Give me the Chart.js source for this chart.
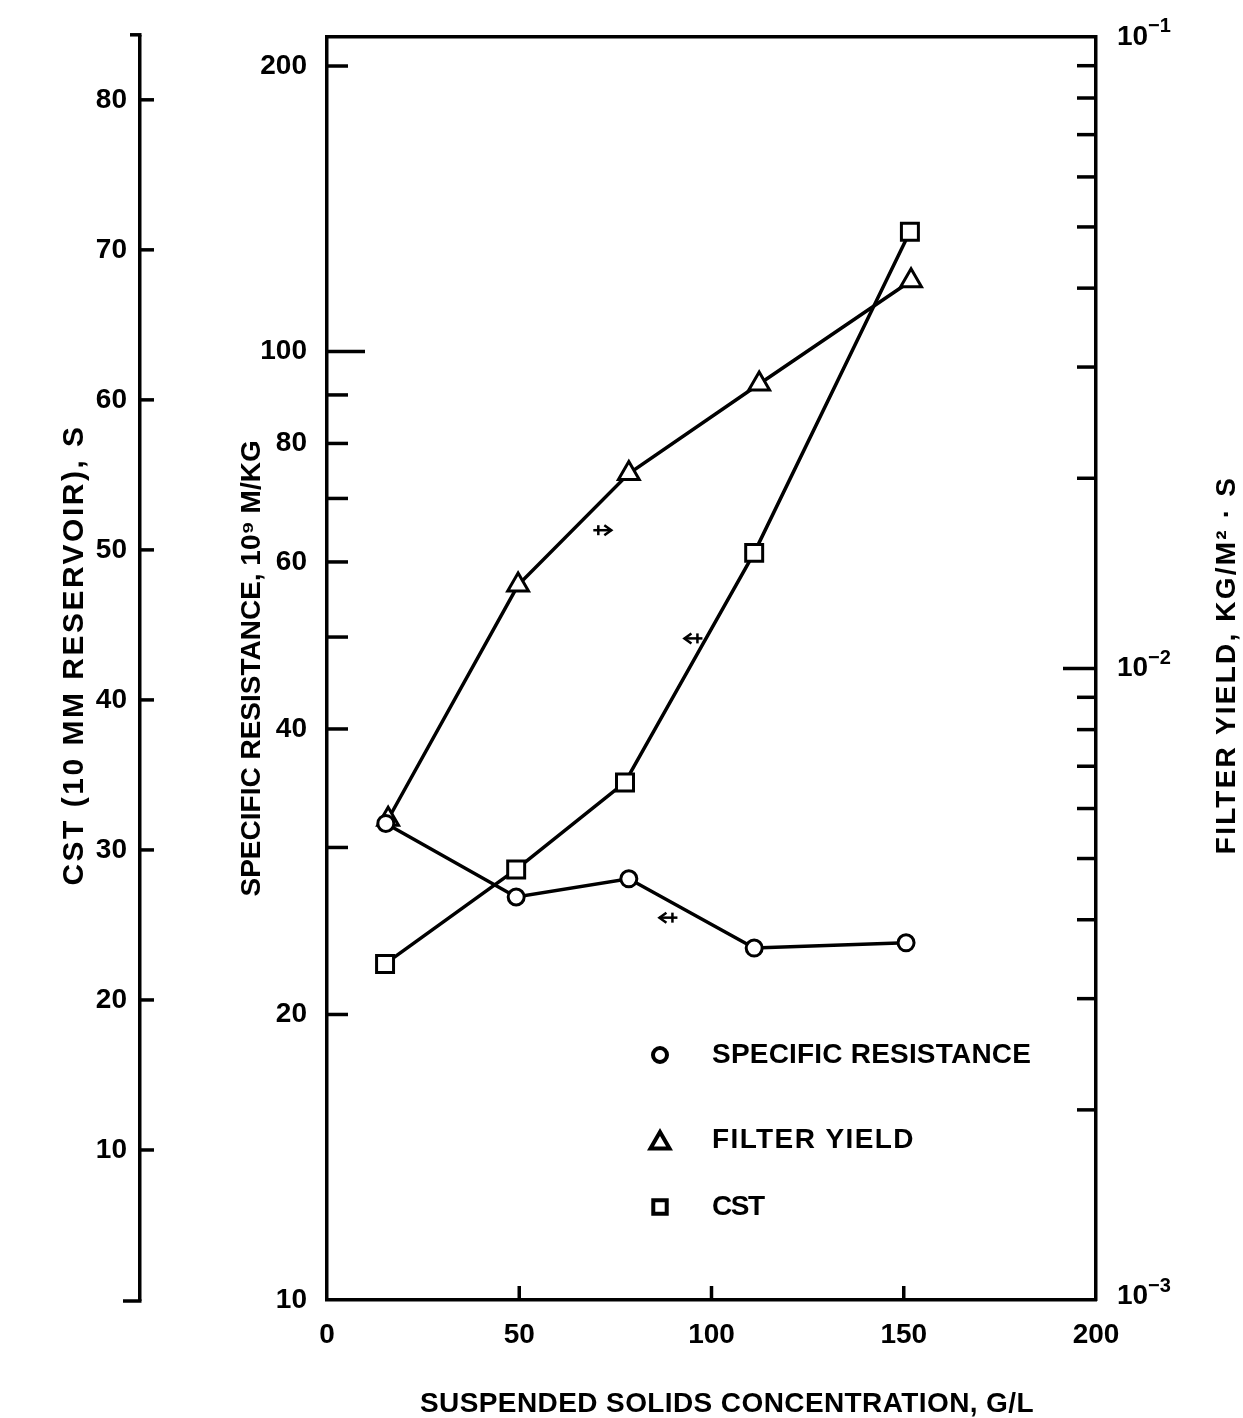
<!DOCTYPE html>
<html><head><meta charset="utf-8">
<script src="https://cdn.jsdelivr.net/npm/chart.js@4.4.1/dist/chart.umd.min.js"></script>
<style>html,body{margin:0;padding:0;background:#fff;}#wrap{width:1243px;height:1418px;}</style>
</head><body><div id="wrap"><canvas id="c" width="1243" height="1418"></canvas></div>
<script>
// ---------- data ----------
const resConc  = [15.3, 49.2, 78.5, 111.1, 150.6];
const specificResistance = [31.8, 26.6, 27.8, 23.5, 23.8];      // 10^9 m/kg
const fyConc   = [15.9, 49.7, 78.5, 112.4, 151.9];
const filterYield = [0.00577, 0.01355, 0.02035, 0.0282, 0.0411]; // kg/m2.s
const cstConc  = [15.1, 49.2, 77.5, 111.1, 151.6];
const cstValues = [22.4, 28.7, 34.5, 49.8, 71.2];               // s

const xTickLabels   = [0, 50, 100, 150, 200];
const xTickMarks    = [50, 100, 150];
const resTickLabels = [10, 20, 40, 60, 80, 100, 200];
const resTickMarks  = [20, 30, 40, 50, 60, 70, 80, 90, 100, 200];
const fyTickLabels  = [0.001, 0.01, 0.1];
const fyTickExp     = {0.001: '\u22123', 0.01: '\u22122', 0.1: '\u22121'};
const fyTickMarks   = [0.002,0.003,0.004,0.005,0.006,0.007,0.008,0.009,0.01,
                       0.02,0.03,0.04,0.05,0.06,0.07,0.08,0.09];
const cstTickLabels = [10, 20, 30, 40, 50, 60, 70, 80];
const legendLabels  = ['SPECIFIC RESISTANCE', 'FILTER YIELD', 'CST'];
const xTitle   = 'SUSPENDED SOLIDS CONCENTRATION, G/L';
const resTitle = 'SPECIFIC RESISTANCE, 10\u2079 M/KG';
const cstTitle = 'CST (10 MM RESERVOIR), S';
const fyTitle  = 'FILTER YIELD, KG/M\u00B2 \u00B7 S';
// little hand-drawn arrows pointing to each curve's axis: [x, value, axis, direction]
const arrowNotes = [[71.6, 0.01655, 'yFY', 1], [95.3, 44.1, 'yCST', -1], [88.8, 25.3, 'yRes', -1]];

// ---------- styling ----------
const FAM = "'Liberation Sans', Arial, Helvetica, sans-serif";
const tickFont = {family: FAM, size: 28, weight: 'bold', lineHeight: 1.2};
const titleFont = {family: FAM, size: 28, weight: 'bold', lineHeight: 1};
const INK = '#000';
const AXW = 3.5;
const noGrid = {display: false, drawTicks: false, drawOnChartArea: false};

function pts(xs, ys){ return xs.map((x,i)=>({x:x, y:ys[i]})); }

function drawText(ctx, text, x, y, size, spacing, rot, align){
  ctx.save();
  ctx.fillStyle = INK;
  ctx.font = 'bold ' + size + 'px ' + FAM;
  if ('letterSpacing' in ctx) ctx.letterSpacing = spacing + 'px';
  ctx.textAlign = align || 'center'; ctx.textBaseline = 'middle';
  ctx.translate(x, y); if (rot) ctx.rotate(rot);
  ctx.fillText(text, 0, 0);
  ctx.restore();
}

const tickPlugin = {
  id: 'handTicks',
  afterDraw(chart){
    const ctx = chart.ctx, s = chart.scales, a = chart.chartArea;
    ctx.save();
    ctx.strokeStyle = INK; ctx.lineWidth = AXW; ctx.lineCap = 'butt';
    const line = (x1,y1,x2,y2)=>{ctx.beginPath();ctx.moveTo(x1,y1);ctx.lineTo(x2,y2);ctx.stroke();};
    resTickMarks.forEach(v=>{const y=s.yRes.getPixelForValue(v); line(a.left, y, a.left + (v===100?38:21), y);});
    fyTickMarks.forEach(v=>{const y=s.yFY.getPixelForValue(v); line(a.right, y, a.right - (v===0.01?33:19), y);});
    xTickMarks.forEach(v=>{const x=s.x.getPixelForValue(v); line(x, a.bottom, x, a.bottom-14);});
    const cx = s.yCST.right;
    cstTickLabels.forEach(v=>{const y=s.yCST.getPixelForValue(v); line(cx, y, cx+14, y);});
    line(cx+1.5, a.top-2, cx-10, a.top-2);
    line(cx+1.5, a.bottom+1, cx-17, a.bottom+1);
    ctx.lineWidth = 2.5;
    arrowNotes.forEach(([xv, yv, ax, dir])=>{
      const x = s.x.getPixelForValue(xv), y = s[ax].getPixelForValue(yv);
      const h = 9;
      line(x - h, y, x + h, y);
      const tip = x + dir*h;
      ctx.beginPath(); ctx.moveTo(tip - dir*7, y-5); ctx.lineTo(tip, y); ctx.lineTo(tip - dir*7, y+5); ctx.stroke();
      line(x - dir*4, y-5, x - dir*4, y+5);
    });
    ctx.restore();

    // right-axis tick labels: 10 with a raised exponent
    const lx = s.yFY.left + 21;
    fyTickLabels.forEach(v=>{
      const y = s.yFY.getPixelForValue(v) - (v===0.001?4:0);
      drawText(ctx, '10', lx, y, 28, 0, 0, 'left');
      drawText(ctx, fyTickExp[v], lx + 31, y - 10, 20, 0, 0, 'left');
    });

    // axis titles
    drawText(ctx, fyTitle, 1227, 665, 28, 2.2, -Math.PI/2);
    drawText(ctx, cstTitle, 75, 655, 30, 2.5, -Math.PI/2);
    drawText(ctx, xTitle, 727, 1404, 28, 0.4, 0);

    // legend
    const styles = [['circle',7],['triangle',11],['rect',9.5]];
    const ys = [1055, 1140, 1207];
    const spacing = [0.2, 1.4, -1.5];
    legendLabels.forEach((t,i)=>{
      const [st, r] = styles[i];
      ctx.save();
      ctx.strokeStyle = INK; ctx.fillStyle = '#fff'; ctx.lineWidth = 4;
      Chart.helpers.drawPoint(ctx, {pointStyle: st, radius: r, borderWidth: 4, rotation: 0},
                              660, ys[i] + (st==='triangle'?3:0));
      ctx.restore();
      drawText(ctx, t, 712, ys[i], 28, spacing[i], 0, 'left');
    });
  }
};

const ptCommon = {borderColor: INK, borderWidth: 3.5, pointBackgroundColor: '#fff', pointBorderColor: INK,
                  pointBorderWidth: 3, showLine: true, tension: 0, fill: false};

new Chart(document.getElementById('c'), {
  type: 'scatter',
  data: {datasets: [
    Object.assign({label: legendLabels[0], data: pts(resConc, specificResistance), yAxisID: 'yRes',
      pointStyle: 'circle', pointRadius: 8}, ptCommon),
    Object.assign({label: legendLabels[1], data: pts(fyConc, filterYield), yAxisID: 'yFY',
      pointStyle: 'triangle', pointRadius: 12}, ptCommon),
    Object.assign({label: legendLabels[2], data: pts(cstConc, cstValues), yAxisID: 'yCST',
      pointStyle: 'rect', pointRadius: 12}, ptCommon),
  ]},
  options: {
    responsive: false, animation: false, devicePixelRatio: 1,
    layout: {padding: {left: 0, right: 0, top: 33, bottom: 0}},
    plugins: {legend: {display: false}, tooltip: {enabled: false}},
    scales: {
      x: {type: 'linear', position: 'bottom', min: 0, max: 200,
        afterBuildTicks: sc => { sc.ticks = xTickLabels.map(v=>({value:v})); },
        grid: noGrid, border: {display: true, color: INK, width: AXW},
        ticks: {font: tickFont, color: INK, padding: 18, maxRotation: 0},
        afterFit: sc => { sc.height = 118; }},
      x2: {type: 'linear', position: 'top', min: 0, max: 200,
        grid: noGrid, ticks: {display: false}, border: {display: true, color: INK, width: AXW},
        afterFit: sc => { sc.height = 0; }},
      yRes: {type: 'logarithmic', position: 'left', weight: 0, min: 10, max: 214.7,
        afterBuildTicks: sc => { sc.ticks = resTickLabels.map(v=>({value:v})); },
        grid: noGrid, border: {display: true, color: INK, width: AXW},
        ticks: {font: tickFont, color: INK, padding: 20, callback: v => String(v)},
        title: {display: true, text: resTitle, color: INK, font: titleFont,
                padding: {top: 98, bottom: 0}},
        afterFit: sc => { sc.width = 187; }},
      yCST: {type: 'linear', position: 'left', weight: 1, min: 0, max: 84.2,
        afterBuildTicks: sc => { sc.ticks = cstTickLabels.map(v=>({value:v})); },
        grid: noGrid, border: {display: true, color: INK, width: AXW},
        ticks: {font: tickFont, color: INK, padding: 13, callback: v => String(v)},
        afterFit: sc => { sc.width = 140; }},
      yFY: {type: 'logarithmic', position: 'right', min: 0.001, max: 0.1,
        afterBuildTicks: sc => { sc.ticks = fyTickLabels.map(v=>({value:v})); },
        grid: noGrid, border: {display: true, color: INK, width: AXW},
        ticks: {display: false},
        afterFit: sc => { sc.width = 147; }}
    }
  },
  plugins: [tickPlugin]
});
</script></body></html>
